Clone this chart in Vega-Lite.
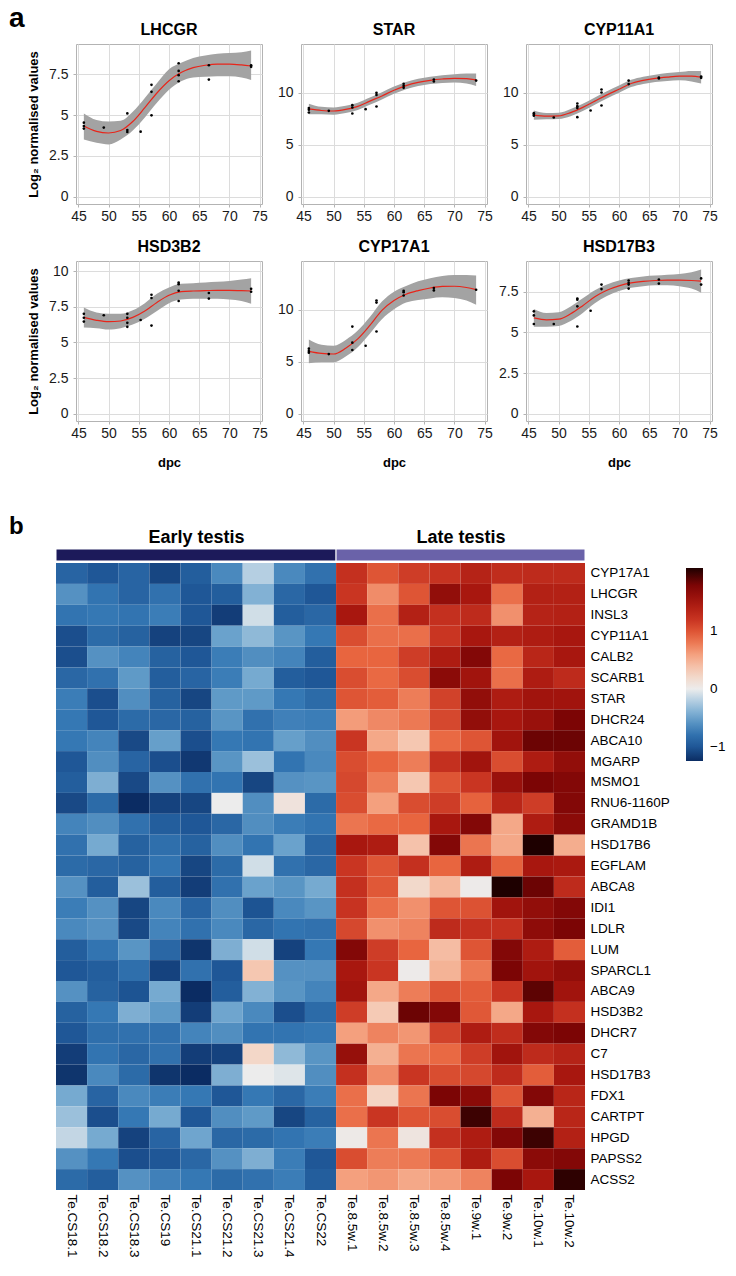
{
  "$schema": "https://vega.github.io/schema/vega-lite/v6.json",
  "background": "white",
  "padding": {"left": 9, "top": 4, "right": 4, "bottom": 4},
  "config": {
    "font": "Liberation Sans",
    "view": {"stroke": "#b3b3b3", "strokeWidth": 1},
    "axis": {"labelFont": "Liberation Sans", "labelFontSize": 14, "labelColor": "#1a1a1a", "tickColor": "#b3b3b3", "tickSize": 3, "labelPadding": 2, "domain": false, "titleFont": "Liberation Sans", "titleFontSize": 13, "titleFontWeight": "bold", "titleColor": "black", "labelFlush": false},
    "title": {"font": "Liberation Sans", "fontSize": 16, "fontWeight": "bold", "color": "black", "offset": 6, "anchor": "middle", "frame": "group"}
  },
  "datasets": {
    "curves": [
      {"gene":"LHCGR","dpc":45.9,"fit":4.33,"lo":3.5,"hi":5.1},
      {"gene":"LHCGR","dpc":48,"fit":4.0,"lo":3.3,"hi":4.7},
      {"gene":"LHCGR","dpc":50,"fit":3.9,"lo":3.2,"hi":4.6},
      {"gene":"LHCGR","dpc":52,"fit":4.05,"lo":3.5,"hi":4.65},
      {"gene":"LHCGR","dpc":54,"fit":4.6,"lo":4.05,"hi":5.2},
      {"gene":"LHCGR","dpc":56,"fit":5.45,"lo":4.85,"hi":6.05},
      {"gene":"LHCGR","dpc":58,"fit":6.35,"lo":5.75,"hi":6.95},
      {"gene":"LHCGR","dpc":60,"fit":7.1,"lo":6.55,"hi":7.8},
      {"gene":"LHCGR","dpc":62,"fit":7.6,"lo":7.07,"hi":8.2},
      {"gene":"LHCGR","dpc":64,"fit":7.9,"lo":7.3,"hi":8.5},
      {"gene":"LHCGR","dpc":66,"fit":8.05,"lo":7.35,"hi":8.65},
      {"gene":"LHCGR","dpc":68,"fit":8.12,"lo":7.38,"hi":8.75},
      {"gene":"LHCGR","dpc":70,"fit":8.12,"lo":7.38,"hi":8.8},
      {"gene":"LHCGR","dpc":72,"fit":8.07,"lo":7.3,"hi":8.85},
      {"gene":"LHCGR","dpc":73.6,"fit":8.0,"lo":7.15,"hi":8.95},
      {"gene":"STAR","dpc":45.9,"fit":8.45,"lo":7.95,"hi":8.95},
      {"gene":"STAR","dpc":48,"fit":8.3,"lo":7.95,"hi":8.65},
      {"gene":"STAR","dpc":50,"fit":8.25,"lo":7.9,"hi":8.6},
      {"gene":"STAR","dpc":52,"fit":8.4,"lo":8.05,"hi":8.75},
      {"gene":"STAR","dpc":54,"fit":8.7,"lo":8.35,"hi":9.05},
      {"gene":"STAR","dpc":56,"fit":9.2,"lo":8.85,"hi":9.55},
      {"gene":"STAR","dpc":58,"fit":9.7,"lo":9.35,"hi":10.05},
      {"gene":"STAR","dpc":60,"fit":10.25,"lo":9.9,"hi":10.6},
      {"gene":"STAR","dpc":62,"fit":10.7,"lo":10.35,"hi":11.05},
      {"gene":"STAR","dpc":64,"fit":11.0,"lo":10.65,"hi":11.35},
      {"gene":"STAR","dpc":66,"fit":11.2,"lo":10.85,"hi":11.55},
      {"gene":"STAR","dpc":68,"fit":11.33,"lo":10.95,"hi":11.7},
      {"gene":"STAR","dpc":70,"fit":11.4,"lo":11.0,"hi":11.8},
      {"gene":"STAR","dpc":72,"fit":11.37,"lo":10.9,"hi":11.85},
      {"gene":"STAR","dpc":73.6,"fit":11.25,"lo":10.65,"hi":11.85},
      {"gene":"CYP11A1","dpc":45.9,"fit":7.85,"lo":7.4,"hi":8.3},
      {"gene":"CYP11A1","dpc":48,"fit":7.75,"lo":7.45,"hi":8.05},
      {"gene":"CYP11A1","dpc":50,"fit":7.78,"lo":7.48,"hi":8.08},
      {"gene":"CYP11A1","dpc":52,"fit":8.1,"lo":7.75,"hi":8.45},
      {"gene":"CYP11A1","dpc":54,"fit":8.6,"lo":8.25,"hi":8.95},
      {"gene":"CYP11A1","dpc":56,"fit":9.2,"lo":8.85,"hi":9.55},
      {"gene":"CYP11A1","dpc":58,"fit":9.8,"lo":9.45,"hi":10.15},
      {"gene":"CYP11A1","dpc":60,"fit":10.35,"lo":10.0,"hi":10.7},
      {"gene":"CYP11A1","dpc":62,"fit":10.9,"lo":10.55,"hi":11.25},
      {"gene":"CYP11A1","dpc":64,"fit":11.2,"lo":10.85,"hi":11.55},
      {"gene":"CYP11A1","dpc":66,"fit":11.4,"lo":11.05,"hi":11.75},
      {"gene":"CYP11A1","dpc":68,"fit":11.52,"lo":11.15,"hi":11.9},
      {"gene":"CYP11A1","dpc":70,"fit":11.6,"lo":11.2,"hi":12.0},
      {"gene":"CYP11A1","dpc":72,"fit":11.6,"lo":11.1,"hi":12.1},
      {"gene":"CYP11A1","dpc":73.6,"fit":11.5,"lo":10.9,"hi":12.1},
      {"gene":"HSD3B2","dpc":45.9,"fit":6.75,"lo":6.05,"hi":7.45},
      {"gene":"HSD3B2","dpc":48,"fit":6.55,"lo":6.0,"hi":7.1},
      {"gene":"HSD3B2","dpc":50,"fit":6.45,"lo":5.9,"hi":7.0},
      {"gene":"HSD3B2","dpc":52,"fit":6.5,"lo":6.0,"hi":7.0},
      {"gene":"HSD3B2","dpc":54,"fit":6.75,"lo":6.25,"hi":7.25},
      {"gene":"HSD3B2","dpc":56,"fit":7.2,"lo":6.65,"hi":7.75},
      {"gene":"HSD3B2","dpc":58,"fit":7.8,"lo":7.2,"hi":8.4},
      {"gene":"HSD3B2","dpc":60,"fit":8.3,"lo":7.75,"hi":8.85},
      {"gene":"HSD3B2","dpc":62,"fit":8.55,"lo":8.0,"hi":9.1},
      {"gene":"HSD3B2","dpc":64,"fit":8.6,"lo":8.05,"hi":9.15},
      {"gene":"HSD3B2","dpc":66,"fit":8.62,"lo":8.05,"hi":9.2},
      {"gene":"HSD3B2","dpc":68,"fit":8.65,"lo":8.05,"hi":9.25},
      {"gene":"HSD3B2","dpc":70,"fit":8.65,"lo":8.0,"hi":9.3},
      {"gene":"HSD3B2","dpc":72,"fit":8.63,"lo":7.9,"hi":9.4},
      {"gene":"HSD3B2","dpc":73.6,"fit":8.6,"lo":7.7,"hi":9.5},
      {"gene":"CYP17A1","dpc":45.9,"fit":6.0,"lo":4.85,"hi":7.15},
      {"gene":"CYP17A1","dpc":48,"fit":5.8,"lo":4.95,"hi":6.65},
      {"gene":"CYP17A1","dpc":50,"fit":5.75,"lo":4.95,"hi":6.55},
      {"gene":"CYP17A1","dpc":52,"fit":6.3,"lo":5.5,"hi":7.1},
      {"gene":"CYP17A1","dpc":54,"fit":7.2,"lo":6.4,"hi":8.0},
      {"gene":"CYP17A1","dpc":56,"fit":8.5,"lo":7.7,"hi":9.3},
      {"gene":"CYP17A1","dpc":58,"fit":9.95,"lo":9.1,"hi":10.8},
      {"gene":"CYP17A1","dpc":60,"fit":10.9,"lo":10.05,"hi":11.75},
      {"gene":"CYP17A1","dpc":62,"fit":11.5,"lo":10.7,"hi":12.3},
      {"gene":"CYP17A1","dpc":64,"fit":11.85,"lo":10.95,"hi":12.75},
      {"gene":"CYP17A1","dpc":66,"fit":12.1,"lo":11.1,"hi":13.05},
      {"gene":"CYP17A1","dpc":68,"fit":12.25,"lo":11.2,"hi":13.25},
      {"gene":"CYP17A1","dpc":70,"fit":12.27,"lo":11.15,"hi":13.35},
      {"gene":"CYP17A1","dpc":72,"fit":12.15,"lo":10.9,"hi":13.35},
      {"gene":"CYP17A1","dpc":73.6,"fit":11.95,"lo":10.5,"hi":13.3},
      {"gene":"HSD17B3","dpc":45.9,"fit":5.9,"lo":5.35,"hi":6.45},
      {"gene":"HSD17B3","dpc":48,"fit":5.78,"lo":5.35,"hi":6.2},
      {"gene":"HSD17B3","dpc":50,"fit":5.82,"lo":5.4,"hi":6.25},
      {"gene":"HSD17B3","dpc":52,"fit":6.15,"lo":5.7,"hi":6.6},
      {"gene":"HSD17B3","dpc":54,"fit":6.65,"lo":6.2,"hi":7.1},
      {"gene":"HSD17B3","dpc":56,"fit":7.2,"lo":6.8,"hi":7.6},
      {"gene":"HSD17B3","dpc":58,"fit":7.6,"lo":7.25,"hi":7.95},
      {"gene":"HSD17B3","dpc":60,"fit":7.87,"lo":7.55,"hi":8.2},
      {"gene":"HSD17B3","dpc":62,"fit":8.05,"lo":7.75,"hi":8.35},
      {"gene":"HSD17B3","dpc":64,"fit":8.15,"lo":7.85,"hi":8.45},
      {"gene":"HSD17B3","dpc":66,"fit":8.2,"lo":7.9,"hi":8.5},
      {"gene":"HSD17B3","dpc":68,"fit":8.22,"lo":7.9,"hi":8.55},
      {"gene":"HSD17B3","dpc":70,"fit":8.22,"lo":7.85,"hi":8.6},
      {"gene":"HSD17B3","dpc":72,"fit":8.2,"lo":7.7,"hi":8.7},
      {"gene":"HSD17B3","dpc":73.6,"fit":8.16,"lo":7.45,"hi":8.87}
    ],
    "points": [
      {"gene":"LHCGR","dpc":45.9,"value":4.53},{"gene":"LHCGR","dpc":45.9,"value":4.33},{"gene":"LHCGR","dpc":45.9,"value":4.17},
      {"gene":"LHCGR","dpc":49.2,"value":4.23},
      {"gene":"LHCGR","dpc":53.1,"value":5.1},{"gene":"LHCGR","dpc":53.1,"value":4.08},{"gene":"LHCGR","dpc":53.1,"value":3.96},
      {"gene":"LHCGR","dpc":55.3,"value":3.98},
      {"gene":"LHCGR","dpc":57.1,"value":6.85},{"gene":"LHCGR","dpc":57.1,"value":6.42},{"gene":"LHCGR","dpc":57.1,"value":4.98},
      {"gene":"LHCGR","dpc":61.6,"value":8.17},{"gene":"LHCGR","dpc":61.6,"value":7.7},{"gene":"LHCGR","dpc":61.6,"value":7.44},{"gene":"LHCGR","dpc":61.6,"value":7.07},
      {"gene":"LHCGR","dpc":66.6,"value":8.05},{"gene":"LHCGR","dpc":66.6,"value":7.17},
      {"gene":"LHCGR","dpc":73.6,"value":8.05},{"gene":"LHCGR","dpc":73.6,"value":7.95},
      {"gene":"STAR","dpc":45.9,"value":8.53},{"gene":"STAR","dpc":45.9,"value":8.37},{"gene":"STAR","dpc":45.9,"value":8.11},
      {"gene":"STAR","dpc":49.2,"value":8.27},
      {"gene":"STAR","dpc":53.1,"value":8.81},{"gene":"STAR","dpc":53.1,"value":8.59},{"gene":"STAR","dpc":53.1,"value":8.01},
      {"gene":"STAR","dpc":55.3,"value":8.43},
      {"gene":"STAR","dpc":57.1,"value":10.0},{"gene":"STAR","dpc":57.1,"value":9.8},{"gene":"STAR","dpc":57.1,"value":8.68},
      {"gene":"STAR","dpc":61.6,"value":10.87},{"gene":"STAR","dpc":61.6,"value":10.67},{"gene":"STAR","dpc":61.6,"value":10.48},
      {"gene":"STAR","dpc":66.6,"value":11.28},{"gene":"STAR","dpc":66.6,"value":11.09},
      {"gene":"STAR","dpc":73.6,"value":11.18},
      {"gene":"CYP11A1","dpc":45.9,"value":8.04},{"gene":"CYP11A1","dpc":45.9,"value":7.88},{"gene":"CYP11A1","dpc":45.9,"value":7.79},
      {"gene":"CYP11A1","dpc":49.2,"value":7.63},
      {"gene":"CYP11A1","dpc":53.1,"value":8.97},{"gene":"CYP11A1","dpc":53.1,"value":8.72},{"gene":"CYP11A1","dpc":53.1,"value":8.53},{"gene":"CYP11A1","dpc":53.1,"value":7.66},
      {"gene":"CYP11A1","dpc":55.3,"value":8.3},
      {"gene":"CYP11A1","dpc":57.1,"value":10.32},{"gene":"CYP11A1","dpc":57.1,"value":10.03},{"gene":"CYP11A1","dpc":57.1,"value":8.78},
      {"gene":"CYP11A1","dpc":61.6,"value":11.18},{"gene":"CYP11A1","dpc":61.6,"value":10.84},
      {"gene":"CYP11A1","dpc":66.6,"value":11.47},{"gene":"CYP11A1","dpc":66.6,"value":11.38},
      {"gene":"CYP11A1","dpc":73.6,"value":11.57},{"gene":"CYP11A1","dpc":73.6,"value":11.44},
      {"gene":"HSD3B2","dpc":45.9,"value":7.0},{"gene":"HSD3B2","dpc":45.9,"value":6.73},{"gene":"HSD3B2","dpc":45.9,"value":6.46},
      {"gene":"HSD3B2","dpc":49.2,"value":6.9},
      {"gene":"HSD3B2","dpc":53.1,"value":7.0},{"gene":"HSD3B2","dpc":53.1,"value":6.73},{"gene":"HSD3B2","dpc":53.1,"value":6.37},{"gene":"HSD3B2","dpc":53.1,"value":6.09},
      {"gene":"HSD3B2","dpc":55.3,"value":6.57},
      {"gene":"HSD3B2","dpc":57.1,"value":8.34},{"gene":"HSD3B2","dpc":57.1,"value":8.11},{"gene":"HSD3B2","dpc":57.1,"value":6.18},
      {"gene":"HSD3B2","dpc":61.6,"value":9.19},{"gene":"HSD3B2","dpc":61.6,"value":9.08},{"gene":"HSD3B2","dpc":61.6,"value":8.62},{"gene":"HSD3B2","dpc":61.6,"value":7.9},
      {"gene":"HSD3B2","dpc":66.6,"value":8.46},{"gene":"HSD3B2","dpc":66.6,"value":8.07},
      {"gene":"HSD3B2","dpc":73.6,"value":8.75},{"gene":"HSD3B2","dpc":73.6,"value":8.55},
      {"gene":"CYP17A1","dpc":45.9,"value":6.26},{"gene":"CYP17A1","dpc":45.9,"value":6.03},{"gene":"CYP17A1","dpc":45.9,"value":5.87},
      {"gene":"CYP17A1","dpc":49.2,"value":5.74},
      {"gene":"CYP17A1","dpc":53.1,"value":8.39},{"gene":"CYP17A1","dpc":53.1,"value":6.84},{"gene":"CYP17A1","dpc":53.1,"value":6.13},
      {"gene":"CYP17A1","dpc":55.3,"value":6.54},
      {"gene":"CYP17A1","dpc":57.1,"value":10.9},{"gene":"CYP17A1","dpc":57.1,"value":10.7},{"gene":"CYP17A1","dpc":57.1,"value":7.91},
      {"gene":"CYP17A1","dpc":61.6,"value":11.84},{"gene":"CYP17A1","dpc":61.6,"value":11.7},{"gene":"CYP17A1","dpc":61.6,"value":11.38},
      {"gene":"CYP17A1","dpc":66.6,"value":12.1},{"gene":"CYP17A1","dpc":66.6,"value":11.87},
      {"gene":"CYP17A1","dpc":73.6,"value":11.93},
      {"gene":"HSD17B3","dpc":45.9,"value":6.3},{"gene":"HSD17B3","dpc":45.9,"value":6.05},{"gene":"HSD17B3","dpc":45.9,"value":5.52},
      {"gene":"HSD17B3","dpc":49.2,"value":5.52},
      {"gene":"HSD17B3","dpc":53.1,"value":7.09},{"gene":"HSD17B3","dpc":53.1,"value":7.02},{"gene":"HSD17B3","dpc":53.1,"value":6.61},{"gene":"HSD17B3","dpc":53.1,"value":5.37},
      {"gene":"HSD17B3","dpc":55.3,"value":6.34},
      {"gene":"HSD17B3","dpc":57.1,"value":7.95},{"gene":"HSD17B3","dpc":57.1,"value":7.67},
      {"gene":"HSD17B3","dpc":61.6,"value":8.2},{"gene":"HSD17B3","dpc":61.6,"value":8.06},{"gene":"HSD17B3","dpc":61.6,"value":7.95},{"gene":"HSD17B3","dpc":61.6,"value":7.7},
      {"gene":"HSD17B3","dpc":66.6,"value":8.26},{"gene":"HSD17B3","dpc":66.6,"value":8.01},
      {"gene":"HSD17B3","dpc":73.6,"value":8.33},{"gene":"HSD17B3","dpc":73.6,"value":7.95}
    ],
    "annot": [
      {"group":"Early testis","start":0,"end":9},
      {"group":"Late testis","start":9,"end":17}
    ],
    "heat": [
      {"gene":"CYP17A1","sample":"Te.CS18.1","z":-0.9},{"gene":"CYP17A1","sample":"Te.CS18.2","z":-1.0},{"gene":"CYP17A1","sample":"Te.CS18.3","z":-0.9},{"gene":"CYP17A1","sample":"Te.CS19","z":-1.1},{"gene":"CYP17A1","sample":"Te.CS21.1","z":-0.95},{"gene":"CYP17A1","sample":"Te.CS21.2","z":-0.65},{"gene":"CYP17A1","sample":"Te.CS21.3","z":-0.2},{"gene":"CYP17A1","sample":"Te.CS21.4","z":-0.65},{"gene":"CYP17A1","sample":"Te.CS22","z":-0.8},{"gene":"CYP17A1","sample":"Te.8.5w.1","z":1.25},{"gene":"CYP17A1","sample":"Te.8.5w.2","z":1.0},{"gene":"CYP17A1","sample":"Te.8.5w.3","z":1.15},{"gene":"CYP17A1","sample":"Te.8.5w.4","z":1.22},{"gene":"CYP17A1","sample":"Te.9w.1","z":1.38},{"gene":"CYP17A1","sample":"Te.9w.2","z":1.28},{"gene":"CYP17A1","sample":"Te.10w.1","z":1.3},{"gene":"CYP17A1","sample":"Te.10w.2","z":1.3},
      {"gene":"LHCGR","sample":"Te.CS18.1","z":-0.6},{"gene":"LHCGR","sample":"Te.CS18.2","z":-0.78},{"gene":"LHCGR","sample":"Te.CS18.3","z":-0.9},{"gene":"LHCGR","sample":"Te.CS19","z":-0.8},{"gene":"LHCGR","sample":"Te.CS21.1","z":-1.0},{"gene":"LHCGR","sample":"Te.CS21.2","z":-0.95},{"gene":"LHCGR","sample":"Te.CS21.3","z":-0.4},{"gene":"LHCGR","sample":"Te.CS21.4","z":-0.88},{"gene":"LHCGR","sample":"Te.CS22","z":-1.0},{"gene":"LHCGR","sample":"Te.8.5w.1","z":1.2},{"gene":"LHCGR","sample":"Te.8.5w.2","z":0.7},{"gene":"LHCGR","sample":"Te.8.5w.3","z":1.0},{"gene":"LHCGR","sample":"Te.8.5w.4","z":1.65},{"gene":"LHCGR","sample":"Te.9w.1","z":1.5},{"gene":"LHCGR","sample":"Te.9w.2","z":0.85},{"gene":"LHCGR","sample":"Te.10w.1","z":1.4},{"gene":"LHCGR","sample":"Te.10w.2","z":1.4},
      {"gene":"INSL3","sample":"Te.CS18.1","z":-0.78},{"gene":"INSL3","sample":"Te.CS18.2","z":-0.75},{"gene":"INSL3","sample":"Te.CS18.3","z":-0.78},{"gene":"INSL3","sample":"Te.CS19","z":-0.72},{"gene":"INSL3","sample":"Te.CS21.1","z":-1.0},{"gene":"INSL3","sample":"Te.CS21.2","z":-1.15},{"gene":"INSL3","sample":"Te.CS21.3","z":-0.1},{"gene":"INSL3","sample":"Te.CS21.4","z":-0.95},{"gene":"INSL3","sample":"Te.CS22","z":-0.88},{"gene":"INSL3","sample":"Te.8.5w.1","z":1.5},{"gene":"INSL3","sample":"Te.8.5w.2","z":0.85},{"gene":"INSL3","sample":"Te.8.5w.3","z":1.4},{"gene":"INSL3","sample":"Te.8.5w.4","z":1.25},{"gene":"INSL3","sample":"Te.9w.1","z":1.3},{"gene":"INSL3","sample":"Te.9w.2","z":0.68},{"gene":"INSL3","sample":"Te.10w.1","z":1.38},{"gene":"INSL3","sample":"Te.10w.2","z":1.4},
      {"gene":"CYP11A1","sample":"Te.CS18.1","z":-1.05},{"gene":"CYP11A1","sample":"Te.CS18.2","z":-0.85},{"gene":"CYP11A1","sample":"Te.CS18.3","z":-0.92},{"gene":"CYP11A1","sample":"Te.CS19","z":-1.12},{"gene":"CYP11A1","sample":"Te.CS21.1","z":-1.1},{"gene":"CYP11A1","sample":"Te.CS21.2","z":-0.5},{"gene":"CYP11A1","sample":"Te.CS21.3","z":-0.35},{"gene":"CYP11A1","sample":"Te.CS21.4","z":-0.58},{"gene":"CYP11A1","sample":"Te.CS22","z":-0.75},{"gene":"CYP11A1","sample":"Te.8.5w.1","z":1.05},{"gene":"CYP11A1","sample":"Te.8.5w.2","z":0.85},{"gene":"CYP11A1","sample":"Te.8.5w.3","z":0.85},{"gene":"CYP11A1","sample":"Te.8.5w.4","z":1.2},{"gene":"CYP11A1","sample":"Te.9w.1","z":1.5},{"gene":"CYP11A1","sample":"Te.9w.2","z":1.4},{"gene":"CYP11A1","sample":"Te.10w.1","z":1.45},{"gene":"CYP11A1","sample":"Te.10w.2","z":1.5},
      {"gene":"CALB2","sample":"Te.CS18.1","z":-1.05},{"gene":"CALB2","sample":"Te.CS18.2","z":-0.6},{"gene":"CALB2","sample":"Te.CS18.3","z":-0.68},{"gene":"CALB2","sample":"Te.CS19","z":-0.92},{"gene":"CALB2","sample":"Te.CS21.1","z":-1.0},{"gene":"CALB2","sample":"Te.CS21.2","z":-0.72},{"gene":"CALB2","sample":"Te.CS21.3","z":-0.62},{"gene":"CALB2","sample":"Te.CS21.4","z":-0.68},{"gene":"CALB2","sample":"Te.CS22","z":-0.95},{"gene":"CALB2","sample":"Te.8.5w.1","z":0.9},{"gene":"CALB2","sample":"Te.8.5w.2","z":0.9},{"gene":"CALB2","sample":"Te.8.5w.3","z":1.15},{"gene":"CALB2","sample":"Te.8.5w.4","z":1.45},{"gene":"CALB2","sample":"Te.9w.1","z":1.75},{"gene":"CALB2","sample":"Te.9w.2","z":0.88},{"gene":"CALB2","sample":"Te.10w.1","z":1.35},{"gene":"CALB2","sample":"Te.10w.2","z":1.5},
      {"gene":"SCARB1","sample":"Te.CS18.1","z":-0.88},{"gene":"SCARB1","sample":"Te.CS18.2","z":-0.8},{"gene":"SCARB1","sample":"Te.CS18.3","z":-0.55},{"gene":"SCARB1","sample":"Te.CS19","z":-0.95},{"gene":"SCARB1","sample":"Te.CS21.1","z":-0.9},{"gene":"SCARB1","sample":"Te.CS21.2","z":-0.72},{"gene":"SCARB1","sample":"Te.CS21.3","z":-0.45},{"gene":"SCARB1","sample":"Te.CS21.4","z":-0.95},{"gene":"SCARB1","sample":"Te.CS22","z":-1.0},{"gene":"SCARB1","sample":"Te.8.5w.1","z":1.05},{"gene":"SCARB1","sample":"Te.8.5w.2","z":0.88},{"gene":"SCARB1","sample":"Te.8.5w.3","z":1.05},{"gene":"SCARB1","sample":"Te.8.5w.4","z":1.7},{"gene":"SCARB1","sample":"Te.9w.1","z":1.55},{"gene":"SCARB1","sample":"Te.9w.2","z":0.85},{"gene":"SCARB1","sample":"Te.10w.1","z":1.45},{"gene":"SCARB1","sample":"Te.10w.2","z":1.3},
      {"gene":"STAR","sample":"Te.CS18.1","z":-0.72},{"gene":"STAR","sample":"Te.CS18.2","z":-1.05},{"gene":"STAR","sample":"Te.CS18.3","z":-0.62},{"gene":"STAR","sample":"Te.CS19","z":-0.92},{"gene":"STAR","sample":"Te.CS21.1","z":-1.1},{"gene":"STAR","sample":"Te.CS21.2","z":-0.55},{"gene":"STAR","sample":"Te.CS21.3","z":-0.55},{"gene":"STAR","sample":"Te.CS21.4","z":-0.75},{"gene":"STAR","sample":"Te.CS22","z":-0.85},{"gene":"STAR","sample":"Te.8.5w.1","z":1.0},{"gene":"STAR","sample":"Te.8.5w.2","z":0.95},{"gene":"STAR","sample":"Te.8.5w.3","z":0.78},{"gene":"STAR","sample":"Te.8.5w.4","z":1.12},{"gene":"STAR","sample":"Te.9w.1","z":1.65},{"gene":"STAR","sample":"Te.9w.2","z":1.45},{"gene":"STAR","sample":"Te.10w.1","z":1.55},{"gene":"STAR","sample":"Te.10w.2","z":1.55},
      {"gene":"DHCR24","sample":"Te.CS18.1","z":-0.75},{"gene":"DHCR24","sample":"Te.CS18.2","z":-1.0},{"gene":"DHCR24","sample":"Te.CS18.3","z":-0.85},{"gene":"DHCR24","sample":"Te.CS19","z":-0.88},{"gene":"DHCR24","sample":"Te.CS21.1","z":-0.92},{"gene":"DHCR24","sample":"Te.CS21.2","z":-0.58},{"gene":"DHCR24","sample":"Te.CS21.3","z":-0.8},{"gene":"DHCR24","sample":"Te.CS21.4","z":-0.7},{"gene":"DHCR24","sample":"Te.CS22","z":-0.72},{"gene":"DHCR24","sample":"Te.8.5w.1","z":0.62},{"gene":"DHCR24","sample":"Te.8.5w.2","z":0.72},{"gene":"DHCR24","sample":"Te.8.5w.3","z":0.8},{"gene":"DHCR24","sample":"Te.8.5w.4","z":1.08},{"gene":"DHCR24","sample":"Te.9w.1","z":1.65},{"gene":"DHCR24","sample":"Te.9w.2","z":1.5},{"gene":"DHCR24","sample":"Te.10w.1","z":1.6},{"gene":"DHCR24","sample":"Te.10w.2","z":1.8},
      {"gene":"ABCA10","sample":"Te.CS18.1","z":-0.75},{"gene":"ABCA10","sample":"Te.CS18.2","z":-0.68},{"gene":"ABCA10","sample":"Te.CS18.3","z":-1.08},{"gene":"ABCA10","sample":"Te.CS19","z":-0.52},{"gene":"ABCA10","sample":"Te.CS21.1","z":-1.05},{"gene":"ABCA10","sample":"Te.CS21.2","z":-0.75},{"gene":"ABCA10","sample":"Te.CS21.3","z":-0.78},{"gene":"ABCA10","sample":"Te.CS21.4","z":-0.52},{"gene":"ABCA10","sample":"Te.CS22","z":-0.62},{"gene":"ABCA10","sample":"Te.8.5w.1","z":1.2},{"gene":"ABCA10","sample":"Te.8.5w.2","z":0.55},{"gene":"ABCA10","sample":"Te.8.5w.3","z":0.35},{"gene":"ABCA10","sample":"Te.8.5w.4","z":0.88},{"gene":"ABCA10","sample":"Te.9w.1","z":1.0},{"gene":"ABCA10","sample":"Te.9w.2","z":1.55},{"gene":"ABCA10","sample":"Te.10w.1","z":1.85},{"gene":"ABCA10","sample":"Te.10w.2","z":1.85},
      {"gene":"MGARP","sample":"Te.CS18.1","z":-1.0},{"gene":"MGARP","sample":"Te.CS18.2","z":-0.62},{"gene":"MGARP","sample":"Te.CS18.3","z":-0.9},{"gene":"MGARP","sample":"Te.CS19","z":-1.05},{"gene":"MGARP","sample":"Te.CS21.1","z":-1.18},{"gene":"MGARP","sample":"Te.CS21.2","z":-0.58},{"gene":"MGARP","sample":"Te.CS21.3","z":-0.3},{"gene":"MGARP","sample":"Te.CS21.4","z":-0.78},{"gene":"MGARP","sample":"Te.CS22","z":-0.65},{"gene":"MGARP","sample":"Te.8.5w.1","z":1.05},{"gene":"MGARP","sample":"Te.8.5w.2","z":0.9},{"gene":"MGARP","sample":"Te.8.5w.3","z":0.78},{"gene":"MGARP","sample":"Te.8.5w.4","z":1.25},{"gene":"MGARP","sample":"Te.9w.1","z":1.55},{"gene":"MGARP","sample":"Te.9w.2","z":1.05},{"gene":"MGARP","sample":"Te.10w.1","z":1.45},{"gene":"MGARP","sample":"Te.10w.2","z":1.65},
      {"gene":"MSMO1","sample":"Te.CS18.1","z":-0.95},{"gene":"MSMO1","sample":"Te.CS18.2","z":-0.42},{"gene":"MSMO1","sample":"Te.CS18.3","z":-1.08},{"gene":"MSMO1","sample":"Te.CS19","z":-0.6},{"gene":"MSMO1","sample":"Te.CS21.1","z":-0.8},{"gene":"MSMO1","sample":"Te.CS21.2","z":-0.78},{"gene":"MSMO1","sample":"Te.CS21.3","z":-1.1},{"gene":"MSMO1","sample":"Te.CS21.4","z":-0.6},{"gene":"MSMO1","sample":"Te.CS22","z":-0.58},{"gene":"MSMO1","sample":"Te.8.5w.1","z":1.08},{"gene":"MSMO1","sample":"Te.8.5w.2","z":0.78},{"gene":"MSMO1","sample":"Te.8.5w.3","z":0.35},{"gene":"MSMO1","sample":"Te.8.5w.4","z":1.0},{"gene":"MSMO1","sample":"Te.9w.1","z":1.2},{"gene":"MSMO1","sample":"Te.9w.2","z":1.6},{"gene":"MSMO1","sample":"Te.10w.1","z":1.8},{"gene":"MSMO1","sample":"Te.10w.2","z":1.75},
      {"gene":"RNU6-1160P","sample":"Te.CS18.1","z":-1.08},{"gene":"RNU6-1160P","sample":"Te.CS18.2","z":-0.85},{"gene":"RNU6-1160P","sample":"Te.CS18.3","z":-1.25},{"gene":"RNU6-1160P","sample":"Te.CS19","z":-1.12},{"gene":"RNU6-1160P","sample":"Te.CS21.1","z":-1.1},{"gene":"RNU6-1160P","sample":"Te.CS21.2","z":0.0},{"gene":"RNU6-1160P","sample":"Te.CS21.3","z":-0.62},{"gene":"RNU6-1160P","sample":"Te.CS21.4","z":0.1},{"gene":"RNU6-1160P","sample":"Te.CS22","z":-0.85},{"gene":"RNU6-1160P","sample":"Te.8.5w.1","z":1.05},{"gene":"RNU6-1160P","sample":"Te.8.5w.2","z":0.6},{"gene":"RNU6-1160P","sample":"Te.8.5w.3","z":1.05},{"gene":"RNU6-1160P","sample":"Te.8.5w.4","z":1.15},{"gene":"RNU6-1160P","sample":"Te.9w.1","z":0.92},{"gene":"RNU6-1160P","sample":"Te.9w.2","z":1.35},{"gene":"RNU6-1160P","sample":"Te.10w.1","z":1.15},{"gene":"RNU6-1160P","sample":"Te.10w.2","z":1.75},
      {"gene":"GRAMD1B","sample":"Te.CS18.1","z":-0.68},{"gene":"GRAMD1B","sample":"Te.CS18.2","z":-0.62},{"gene":"GRAMD1B","sample":"Te.CS18.3","z":-0.8},{"gene":"GRAMD1B","sample":"Te.CS19","z":-0.95},{"gene":"GRAMD1B","sample":"Te.CS21.1","z":-1.0},{"gene":"GRAMD1B","sample":"Te.CS21.2","z":-0.88},{"gene":"GRAMD1B","sample":"Te.CS21.3","z":-0.62},{"gene":"GRAMD1B","sample":"Te.CS21.4","z":-0.72},{"gene":"GRAMD1B","sample":"Te.CS22","z":-0.78},{"gene":"GRAMD1B","sample":"Te.8.5w.1","z":0.82},{"gene":"GRAMD1B","sample":"Te.8.5w.2","z":0.88},{"gene":"GRAMD1B","sample":"Te.8.5w.3","z":0.9},{"gene":"GRAMD1B","sample":"Te.8.5w.4","z":1.5},{"gene":"GRAMD1B","sample":"Te.9w.1","z":1.75},{"gene":"GRAMD1B","sample":"Te.9w.2","z":0.55},{"gene":"GRAMD1B","sample":"Te.10w.1","z":1.45},{"gene":"GRAMD1B","sample":"Te.10w.2","z":1.7},
      {"gene":"HSD17B6","sample":"Te.CS18.1","z":-0.8},{"gene":"HSD17B6","sample":"Te.CS18.2","z":-0.45},{"gene":"HSD17B6","sample":"Te.CS18.3","z":-0.92},{"gene":"HSD17B6","sample":"Te.CS19","z":-0.82},{"gene":"HSD17B6","sample":"Te.CS21.1","z":-0.92},{"gene":"HSD17B6","sample":"Te.CS21.2","z":-0.62},{"gene":"HSD17B6","sample":"Te.CS21.3","z":-0.78},{"gene":"HSD17B6","sample":"Te.CS21.4","z":-0.5},{"gene":"HSD17B6","sample":"Te.CS22","z":-0.88},{"gene":"HSD17B6","sample":"Te.8.5w.1","z":1.5},{"gene":"HSD17B6","sample":"Te.8.5w.2","z":1.45},{"gene":"HSD17B6","sample":"Te.8.5w.3","z":0.38},{"gene":"HSD17B6","sample":"Te.8.5w.4","z":1.75},{"gene":"HSD17B6","sample":"Te.9w.1","z":0.82},{"gene":"HSD17B6","sample":"Te.9w.2","z":0.55},{"gene":"HSD17B6","sample":"Te.10w.1","z":2.1},{"gene":"HSD17B6","sample":"Te.10w.2","z":0.52},
      {"gene":"EGFLAM","sample":"Te.CS18.1","z":-0.85},{"gene":"EGFLAM","sample":"Te.CS18.2","z":-0.88},{"gene":"EGFLAM","sample":"Te.CS18.3","z":-0.92},{"gene":"EGFLAM","sample":"Te.CS19","z":-0.78},{"gene":"EGFLAM","sample":"Te.CS21.1","z":-1.1},{"gene":"EGFLAM","sample":"Te.CS21.2","z":-0.85},{"gene":"EGFLAM","sample":"Te.CS21.3","z":-0.1},{"gene":"EGFLAM","sample":"Te.CS21.4","z":-0.8},{"gene":"EGFLAM","sample":"Te.CS22","z":-0.88},{"gene":"EGFLAM","sample":"Te.8.5w.1","z":1.2},{"gene":"EGFLAM","sample":"Te.8.5w.2","z":1.0},{"gene":"EGFLAM","sample":"Te.8.5w.3","z":1.25},{"gene":"EGFLAM","sample":"Te.8.5w.4","z":0.9},{"gene":"EGFLAM","sample":"Te.9w.1","z":1.45},{"gene":"EGFLAM","sample":"Te.9w.2","z":0.92},{"gene":"EGFLAM","sample":"Te.10w.1","z":1.5},{"gene":"EGFLAM","sample":"Te.10w.2","z":1.48},
      {"gene":"ABCA8","sample":"Te.CS18.1","z":-0.6},{"gene":"ABCA8","sample":"Te.CS18.2","z":-0.95},{"gene":"ABCA8","sample":"Te.CS18.3","z":-0.3},{"gene":"ABCA8","sample":"Te.CS19","z":-0.95},{"gene":"ABCA8","sample":"Te.CS21.1","z":-1.15},{"gene":"ABCA8","sample":"Te.CS21.2","z":-0.8},{"gene":"ABCA8","sample":"Te.CS21.3","z":-0.5},{"gene":"ABCA8","sample":"Te.CS21.4","z":-0.58},{"gene":"ABCA8","sample":"Te.CS22","z":-0.45},{"gene":"ABCA8","sample":"Te.8.5w.1","z":1.25},{"gene":"ABCA8","sample":"Te.8.5w.2","z":0.98},{"gene":"ABCA8","sample":"Te.8.5w.3","z":0.2},{"gene":"ABCA8","sample":"Te.8.5w.4","z":0.45},{"gene":"ABCA8","sample":"Te.9w.1","z":0.02},{"gene":"ABCA8","sample":"Te.9w.2","z":2.15},{"gene":"ABCA8","sample":"Te.10w.1","z":1.85},{"gene":"ABCA8","sample":"Te.10w.2","z":1.3},
      {"gene":"IDI1","sample":"Te.CS18.1","z":-0.72},{"gene":"IDI1","sample":"Te.CS18.2","z":-0.6},{"gene":"IDI1","sample":"Te.CS18.3","z":-1.1},{"gene":"IDI1","sample":"Te.CS19","z":-0.65},{"gene":"IDI1","sample":"Te.CS21.1","z":-0.9},{"gene":"IDI1","sample":"Te.CS21.2","z":-0.62},{"gene":"IDI1","sample":"Te.CS21.3","z":-1.02},{"gene":"IDI1","sample":"Te.CS21.4","z":-0.65},{"gene":"IDI1","sample":"Te.CS22","z":-0.58},{"gene":"IDI1","sample":"Te.8.5w.1","z":1.22},{"gene":"IDI1","sample":"Te.8.5w.2","z":0.85},{"gene":"IDI1","sample":"Te.8.5w.3","z":0.68},{"gene":"IDI1","sample":"Te.8.5w.4","z":1.0},{"gene":"IDI1","sample":"Te.9w.1","z":1.02},{"gene":"IDI1","sample":"Te.9w.2","z":1.55},{"gene":"IDI1","sample":"Te.10w.1","z":1.65},{"gene":"IDI1","sample":"Te.10w.2","z":1.75},
      {"gene":"LDLR","sample":"Te.CS18.1","z":-0.65},{"gene":"LDLR","sample":"Te.CS18.2","z":-0.6},{"gene":"LDLR","sample":"Te.CS18.3","z":-1.08},{"gene":"LDLR","sample":"Te.CS19","z":-0.68},{"gene":"LDLR","sample":"Te.CS21.1","z":-0.8},{"gene":"LDLR","sample":"Te.CS21.2","z":-0.65},{"gene":"LDLR","sample":"Te.CS21.3","z":-0.88},{"gene":"LDLR","sample":"Te.CS21.4","z":-0.78},{"gene":"LDLR","sample":"Te.CS22","z":-0.8},{"gene":"LDLR","sample":"Te.8.5w.1","z":1.08},{"gene":"LDLR","sample":"Te.8.5w.2","z":0.68},{"gene":"LDLR","sample":"Te.8.5w.3","z":0.75},{"gene":"LDLR","sample":"Te.8.5w.4","z":1.3},{"gene":"LDLR","sample":"Te.9w.1","z":1.25},{"gene":"LDLR","sample":"Te.9w.2","z":1.25},{"gene":"LDLR","sample":"Te.10w.1","z":1.68},{"gene":"LDLR","sample":"Te.10w.2","z":1.8},
      {"gene":"LUM","sample":"Te.CS18.1","z":-0.95},{"gene":"LUM","sample":"Te.CS18.2","z":-0.78},{"gene":"LUM","sample":"Te.CS18.3","z":-0.58},{"gene":"LUM","sample":"Te.CS19","z":-0.88},{"gene":"LUM","sample":"Te.CS21.1","z":-1.2},{"gene":"LUM","sample":"Te.CS21.2","z":-0.42},{"gene":"LUM","sample":"Te.CS21.3","z":-0.1},{"gene":"LUM","sample":"Te.CS21.4","z":-1.12},{"gene":"LUM","sample":"Te.CS22","z":-0.75},{"gene":"LUM","sample":"Te.8.5w.1","z":1.75},{"gene":"LUM","sample":"Te.8.5w.2","z":1.15},{"gene":"LUM","sample":"Te.8.5w.3","z":0.9},{"gene":"LUM","sample":"Te.8.5w.4","z":0.42},{"gene":"LUM","sample":"Te.9w.1","z":1.0},{"gene":"LUM","sample":"Te.9w.2","z":1.75},{"gene":"LUM","sample":"Te.10w.1","z":1.45},{"gene":"LUM","sample":"Te.10w.2","z":0.95},
      {"gene":"SPARCL1","sample":"Te.CS18.1","z":-1.0},{"gene":"SPARCL1","sample":"Te.CS18.2","z":-0.95},{"gene":"SPARCL1","sample":"Te.CS18.3","z":-0.82},{"gene":"SPARCL1","sample":"Te.CS19","z":-1.12},{"gene":"SPARCL1","sample":"Te.CS21.1","z":-0.8},{"gene":"SPARCL1","sample":"Te.CS21.2","z":-1.0},{"gene":"SPARCL1","sample":"Te.CS21.3","z":0.35},{"gene":"SPARCL1","sample":"Te.CS21.4","z":-0.6},{"gene":"SPARCL1","sample":"Te.CS22","z":-0.6},{"gene":"SPARCL1","sample":"Te.8.5w.1","z":1.5},{"gene":"SPARCL1","sample":"Te.8.5w.2","z":1.2},{"gene":"SPARCL1","sample":"Te.8.5w.3","z":0.02},{"gene":"SPARCL1","sample":"Te.8.5w.4","z":0.48},{"gene":"SPARCL1","sample":"Te.9w.1","z":0.8},{"gene":"SPARCL1","sample":"Te.9w.2","z":1.8},{"gene":"SPARCL1","sample":"Te.10w.1","z":1.55},{"gene":"SPARCL1","sample":"Te.10w.2","z":1.65},
      {"gene":"ABCA9","sample":"Te.CS18.1","z":-0.6},{"gene":"ABCA9","sample":"Te.CS18.2","z":-0.92},{"gene":"ABCA9","sample":"Te.CS18.3","z":-1.02},{"gene":"ABCA9","sample":"Te.CS19","z":-0.45},{"gene":"ABCA9","sample":"Te.CS21.1","z":-1.25},{"gene":"ABCA9","sample":"Te.CS21.2","z":-0.95},{"gene":"ABCA9","sample":"Te.CS21.3","z":-0.4},{"gene":"ABCA9","sample":"Te.CS21.4","z":-0.58},{"gene":"ABCA9","sample":"Te.CS22","z":-0.68},{"gene":"ABCA9","sample":"Te.8.5w.1","z":1.55},{"gene":"ABCA9","sample":"Te.8.5w.2","z":0.55},{"gene":"ABCA9","sample":"Te.8.5w.3","z":0.78},{"gene":"ABCA9","sample":"Te.8.5w.4","z":1.0},{"gene":"ABCA9","sample":"Te.9w.1","z":0.95},{"gene":"ABCA9","sample":"Te.9w.2","z":1.2},{"gene":"ABCA9","sample":"Te.10w.1","z":1.9},{"gene":"ABCA9","sample":"Te.10w.2","z":1.55},
      {"gene":"HSD3B2","sample":"Te.CS18.1","z":-0.92},{"gene":"HSD3B2","sample":"Te.CS18.2","z":-0.75},{"gene":"HSD3B2","sample":"Te.CS18.3","z":-0.42},{"gene":"HSD3B2","sample":"Te.CS19","z":-0.55},{"gene":"HSD3B2","sample":"Te.CS21.1","z":-1.15},{"gene":"HSD3B2","sample":"Te.CS21.2","z":-0.48},{"gene":"HSD3B2","sample":"Te.CS21.3","z":-0.65},{"gene":"HSD3B2","sample":"Te.CS21.4","z":-1.05},{"gene":"HSD3B2","sample":"Te.CS22","z":-0.85},{"gene":"HSD3B2","sample":"Te.8.5w.1","z":1.15},{"gene":"HSD3B2","sample":"Te.8.5w.2","z":0.33},{"gene":"HSD3B2","sample":"Te.8.5w.3","z":1.85},{"gene":"HSD3B2","sample":"Te.8.5w.4","z":1.75},{"gene":"HSD3B2","sample":"Te.9w.1","z":0.98},{"gene":"HSD3B2","sample":"Te.9w.2","z":0.55},{"gene":"HSD3B2","sample":"Te.10w.1","z":1.5},{"gene":"HSD3B2","sample":"Te.10w.2","z":1.25},
      {"gene":"DHCR7","sample":"Te.CS18.1","z":-1.0},{"gene":"DHCR7","sample":"Te.CS18.2","z":-0.82},{"gene":"DHCR7","sample":"Te.CS18.3","z":-0.8},{"gene":"DHCR7","sample":"Te.CS19","z":-0.8},{"gene":"DHCR7","sample":"Te.CS21.1","z":-0.68},{"gene":"DHCR7","sample":"Te.CS21.2","z":-0.62},{"gene":"DHCR7","sample":"Te.CS21.3","z":-0.78},{"gene":"DHCR7","sample":"Te.CS21.4","z":-0.78},{"gene":"DHCR7","sample":"Te.CS22","z":-0.75},{"gene":"DHCR7","sample":"Te.8.5w.1","z":0.6},{"gene":"DHCR7","sample":"Te.8.5w.2","z":0.75},{"gene":"DHCR7","sample":"Te.8.5w.3","z":0.65},{"gene":"DHCR7","sample":"Te.8.5w.4","z":1.12},{"gene":"DHCR7","sample":"Te.9w.1","z":1.45},{"gene":"DHCR7","sample":"Te.9w.2","z":1.28},{"gene":"DHCR7","sample":"Te.10w.1","z":1.75},{"gene":"DHCR7","sample":"Te.10w.2","z":1.8},
      {"gene":"C7","sample":"Te.CS18.1","z":-1.15},{"gene":"C7","sample":"Te.CS18.2","z":-0.78},{"gene":"C7","sample":"Te.CS18.3","z":-0.88},{"gene":"C7","sample":"Te.CS19","z":-0.8},{"gene":"C7","sample":"Te.CS21.1","z":-1.15},{"gene":"C7","sample":"Te.CS21.2","z":-1.12},{"gene":"C7","sample":"Te.CS21.3","z":0.22},{"gene":"C7","sample":"Te.CS21.4","z":-0.35},{"gene":"C7","sample":"Te.CS22","z":-0.58},{"gene":"C7","sample":"Te.8.5w.1","z":1.62},{"gene":"C7","sample":"Te.8.5w.2","z":0.5},{"gene":"C7","sample":"Te.8.5w.3","z":0.82},{"gene":"C7","sample":"Te.8.5w.4","z":0.88},{"gene":"C7","sample":"Te.9w.1","z":1.15},{"gene":"C7","sample":"Te.9w.2","z":1.55},{"gene":"C7","sample":"Te.10w.1","z":1.3},{"gene":"C7","sample":"Te.10w.2","z":1.38},
      {"gene":"HSD17B3","sample":"Te.CS18.1","z":-1.2},{"gene":"HSD17B3","sample":"Te.CS18.2","z":-0.65},{"gene":"HSD17B3","sample":"Te.CS18.3","z":-0.85},{"gene":"HSD17B3","sample":"Te.CS19","z":-1.2},{"gene":"HSD17B3","sample":"Te.CS21.1","z":-1.25},{"gene":"HSD17B3","sample":"Te.CS21.2","z":-0.42},{"gene":"HSD17B3","sample":"Te.CS21.3","z":0.0},{"gene":"HSD17B3","sample":"Te.CS21.4","z":-0.05},{"gene":"HSD17B3","sample":"Te.CS22","z":-0.62},{"gene":"HSD17B3","sample":"Te.8.5w.1","z":1.25},{"gene":"HSD17B3","sample":"Te.8.5w.2","z":0.7},{"gene":"HSD17B3","sample":"Te.8.5w.3","z":1.2},{"gene":"HSD17B3","sample":"Te.8.5w.4","z":1.05},{"gene":"HSD17B3","sample":"Te.9w.1","z":1.08},{"gene":"HSD17B3","sample":"Te.9w.2","z":1.3},{"gene":"HSD17B3","sample":"Te.10w.1","z":0.95},{"gene":"HSD17B3","sample":"Te.10w.2","z":1.5},
      {"gene":"FDX1","sample":"Te.CS18.1","z":-0.45},{"gene":"FDX1","sample":"Te.CS18.2","z":-0.9},{"gene":"FDX1","sample":"Te.CS18.3","z":-0.65},{"gene":"FDX1","sample":"Te.CS19","z":-0.72},{"gene":"FDX1","sample":"Te.CS21.1","z":-0.75},{"gene":"FDX1","sample":"Te.CS21.2","z":-1.0},{"gene":"FDX1","sample":"Te.CS21.3","z":-0.75},{"gene":"FDX1","sample":"Te.CS21.4","z":-0.88},{"gene":"FDX1","sample":"Te.CS22","z":-0.72},{"gene":"FDX1","sample":"Te.8.5w.1","z":0.85},{"gene":"FDX1","sample":"Te.8.5w.2","z":0.25},{"gene":"FDX1","sample":"Te.8.5w.3","z":0.82},{"gene":"FDX1","sample":"Te.8.5w.4","z":1.8},{"gene":"FDX1","sample":"Te.9w.1","z":1.7},{"gene":"FDX1","sample":"Te.9w.2","z":1.0},{"gene":"FDX1","sample":"Te.10w.1","z":1.75},{"gene":"FDX1","sample":"Te.10w.2","z":1.35},
      {"gene":"CARTPT","sample":"Te.CS18.1","z":-0.3},{"gene":"CARTPT","sample":"Te.CS18.2","z":-1.05},{"gene":"CARTPT","sample":"Te.CS18.3","z":-0.75},{"gene":"CARTPT","sample":"Te.CS19","z":-0.45},{"gene":"CARTPT","sample":"Te.CS21.1","z":-1.0},{"gene":"CARTPT","sample":"Te.CS21.2","z":-0.62},{"gene":"CARTPT","sample":"Te.CS21.3","z":-0.55},{"gene":"CARTPT","sample":"Te.CS21.4","z":-1.1},{"gene":"CARTPT","sample":"Te.CS22","z":-0.92},{"gene":"CARTPT","sample":"Te.8.5w.1","z":0.85},{"gene":"CARTPT","sample":"Te.8.5w.2","z":1.2},{"gene":"CARTPT","sample":"Te.8.5w.3","z":1.0},{"gene":"CARTPT","sample":"Te.8.5w.4","z":1.05},{"gene":"CARTPT","sample":"Te.9w.1","z":2.0},{"gene":"CARTPT","sample":"Te.9w.2","z":1.3},{"gene":"CARTPT","sample":"Te.10w.1","z":0.5},{"gene":"CARTPT","sample":"Te.10w.2","z":1.35},
      {"gene":"HPGD","sample":"Te.CS18.1","z":-0.15},{"gene":"HPGD","sample":"Te.CS18.2","z":-0.45},{"gene":"HPGD","sample":"Te.CS18.3","z":-1.12},{"gene":"HPGD","sample":"Te.CS19","z":-0.9},{"gene":"HPGD","sample":"Te.CS21.1","z":-0.48},{"gene":"HPGD","sample":"Te.CS21.2","z":-0.88},{"gene":"HPGD","sample":"Te.CS21.3","z":-0.85},{"gene":"HPGD","sample":"Te.CS21.4","z":-0.78},{"gene":"HPGD","sample":"Te.CS22","z":-0.72},{"gene":"HPGD","sample":"Te.8.5w.1","z":0.03},{"gene":"HPGD","sample":"Te.8.5w.2","z":0.82},{"gene":"HPGD","sample":"Te.8.5w.3","z":0.08},{"gene":"HPGD","sample":"Te.8.5w.4","z":1.25},{"gene":"HPGD","sample":"Te.9w.1","z":1.45},{"gene":"HPGD","sample":"Te.9w.2","z":1.75},{"gene":"HPGD","sample":"Te.10w.1","z":2.0},{"gene":"HPGD","sample":"Te.10w.2","z":1.4},
      {"gene":"PAPSS2","sample":"Te.CS18.1","z":-0.6},{"gene":"PAPSS2","sample":"Te.CS18.2","z":-0.75},{"gene":"PAPSS2","sample":"Te.CS18.3","z":-1.05},{"gene":"PAPSS2","sample":"Te.CS19","z":-1.0},{"gene":"PAPSS2","sample":"Te.CS21.1","z":-0.88},{"gene":"PAPSS2","sample":"Te.CS21.2","z":-0.6},{"gene":"PAPSS2","sample":"Te.CS21.3","z":-0.42},{"gene":"PAPSS2","sample":"Te.CS21.4","z":-0.72},{"gene":"PAPSS2","sample":"Te.CS22","z":-1.0},{"gene":"PAPSS2","sample":"Te.8.5w.1","z":1.05},{"gene":"PAPSS2","sample":"Te.8.5w.2","z":0.78},{"gene":"PAPSS2","sample":"Te.8.5w.3","z":0.8},{"gene":"PAPSS2","sample":"Te.8.5w.4","z":1.0},{"gene":"PAPSS2","sample":"Te.9w.1","z":1.45},{"gene":"PAPSS2","sample":"Te.9w.2","z":1.05},{"gene":"PAPSS2","sample":"Te.10w.1","z":1.7},{"gene":"PAPSS2","sample":"Te.10w.2","z":1.75},
      {"gene":"ACSS2","sample":"Te.CS18.1","z":-0.85},{"gene":"ACSS2","sample":"Te.CS18.2","z":-0.95},{"gene":"ACSS2","sample":"Te.CS18.3","z":-0.6},{"gene":"ACSS2","sample":"Te.CS19","z":-0.7},{"gene":"ACSS2","sample":"Te.CS21.1","z":-0.75},{"gene":"ACSS2","sample":"Te.CS21.2","z":-0.85},{"gene":"ACSS2","sample":"Te.CS21.3","z":-0.8},{"gene":"ACSS2","sample":"Te.CS21.4","z":-0.72},{"gene":"ACSS2","sample":"Te.CS22","z":-0.95},{"gene":"ACSS2","sample":"Te.8.5w.1","z":0.6},{"gene":"ACSS2","sample":"Te.8.5w.2","z":0.65},{"gene":"ACSS2","sample":"Te.8.5w.3","z":0.55},{"gene":"ACSS2","sample":"Te.8.5w.4","z":0.62},{"gene":"ACSS2","sample":"Te.9w.1","z":0.75},{"gene":"ACSS2","sample":"Te.9w.2","z":1.8},{"gene":"ACSS2","sample":"Te.10w.1","z":1.5},{"gene":"ACSS2","sample":"Te.10w.2","z":2.05}
    ]
  },
  "resolve": {"scale": {"color": "independent"}, "legend": {"color": "independent"}},
  "spacing": 14,
  "columns": 1,
  "align": "none",
  "concat": [
    {
      "title": {"text": "a", "anchor": "start", "frame": "group", "fontSize": 28, "dx": -47, "dy": 11, "offset": 0},
      "spacing": 19,
      "bounds": "flush",
      "hconcat": [
        {"width": 1, "height": 1, "view": {"stroke": null}, "data": {"values": []}, "mark": {"type": "point"}},
        {
          "spacing": 39,
          "bounds": "flush",
          "hconcat": [
            {
              "width": 186, "height": 160,
              "title": {"text": "LHCGR"},
              "resolve": {"axis": {"x": "independent", "y": "independent"}},
              "layer": [
                {"data": {"name": "curves"}, "transform": [{"filter": "datum.gene === 'LHCGR'"}],
                 "mark": {"type": "area", "color": "#a3a3a3", "interpolate": "monotone"},
                 "encoding": {
                   "x": {"field": "dpc", "type": "quantitative", "scale": {"domain": [44.6, 75.4], "nice": false, "zero": false},
                         "axis": {"values": [45,50,55,60,65,70,75], "labelExpr": "'' + datum.value", "gridColor": "#dcdcdc", "title": null}},
                   "y": {"field": "lo", "type": "quantitative", "scale": {"domain": [-0.45, 9.35], "nice": false, "zero": false},
                         "axis": {"values": [0,2.5,5,7.5], "labelExpr": "'' + datum.value", "gridColor": "#dcdcdc", "labelPadding": 5, "title": "Log₂ normalised values", "titlePadding": 5.5, "minExtent": 30, "maxExtent": 30}},
                   "y2": {"field": "hi"}}},
                {"data": {"name": "curves"}, "transform": [{"filter": "datum.gene === 'LHCGR'"}],
                 "mark": {"type": "line", "color": "#e8251a", "strokeWidth": 1.2, "interpolate": "monotone"},
                 "encoding": {
                   "x": {"field": "dpc", "type": "quantitative", "axis": {"values": [47.5,52.5,57.5,62.5,67.5,72.5], "labels": false, "ticks": false, "domain": false, "gridColor": "#eeeeee", "title": null, "minExtent": 0, "maxExtent": 0}},
                   "y": {"field": "fit", "type": "quantitative", "axis": {"values": [1.25,3.75,6.25,8.75], "labels": false, "ticks": false, "domain": false, "gridColor": "#eeeeee", "title": null, "minExtent": 0, "maxExtent": 0}}}},
                {"data": {"name": "points"}, "transform": [{"filter": "datum.gene === 'LHCGR'"}],
                 "mark": {"type": "circle", "color": "black", "size": 7, "opacity": 1},
                 "encoding": {"x": {"field": "dpc", "type": "quantitative", "axis": null}, "y": {"field": "value", "type": "quantitative", "axis": null}}}
              ]
            },
            {
              "width": 186, "height": 160,
              "title": {"text": "STAR"},
              "resolve": {"axis": {"x": "independent", "y": "independent"}},
              "layer": [
                {"data": {"name": "curves"}, "transform": [{"filter": "datum.gene === 'STAR'"}],
                 "mark": {"type": "area", "color": "#a3a3a3", "interpolate": "monotone"},
                 "encoding": {
                   "x": {"field": "dpc", "type": "quantitative", "scale": {"domain": [44.6, 75.4], "nice": false, "zero": false},
                         "axis": {"values": [45,50,55,60,65,70,75], "labelExpr": "'' + datum.value", "gridColor": "#dcdcdc", "title": null}},
                   "y": {"field": "lo", "type": "quantitative", "scale": {"domain": [-0.7, 14.7], "nice": false, "zero": false},
                         "axis": {"values": [0,5,10], "labelExpr": "'' + datum.value", "gridColor": "#dcdcdc", "labelPadding": 5, "title": null}},
                   "y2": {"field": "hi"}}},
                {"data": {"name": "curves"}, "transform": [{"filter": "datum.gene === 'STAR'"}],
                 "mark": {"type": "line", "color": "#e8251a", "strokeWidth": 1.2, "interpolate": "monotone"},
                 "encoding": {
                   "x": {"field": "dpc", "type": "quantitative", "axis": {"values": [47.5,52.5,57.5,62.5,67.5,72.5], "labels": false, "ticks": false, "domain": false, "gridColor": "#eeeeee", "title": null, "minExtent": 0, "maxExtent": 0}},
                   "y": {"field": "fit", "type": "quantitative", "axis": {"values": [2.5,7.5,12.5], "labels": false, "ticks": false, "domain": false, "gridColor": "#eeeeee", "title": null, "minExtent": 0, "maxExtent": 0}}}},
                {"data": {"name": "points"}, "transform": [{"filter": "datum.gene === 'STAR'"}],
                 "mark": {"type": "circle", "color": "black", "size": 7, "opacity": 1},
                 "encoding": {"x": {"field": "dpc", "type": "quantitative", "axis": null}, "y": {"field": "value", "type": "quantitative", "axis": null}}}
              ]
            },
            {
              "width": 186, "height": 160,
              "title": {"text": "CYP11A1"},
              "resolve": {"axis": {"x": "independent", "y": "independent"}},
              "layer": [
                {"data": {"name": "curves"}, "transform": [{"filter": "datum.gene === 'CYP11A1'"}],
                 "mark": {"type": "area", "color": "#a3a3a3", "interpolate": "monotone"},
                 "encoding": {
                   "x": {"field": "dpc", "type": "quantitative", "scale": {"domain": [44.6, 75.4], "nice": false, "zero": false},
                         "axis": {"values": [45,50,55,60,65,70,75], "labelExpr": "'' + datum.value", "gridColor": "#dcdcdc", "title": null}},
                   "y": {"field": "lo", "type": "quantitative", "scale": {"domain": [-0.7, 14.7], "nice": false, "zero": false},
                         "axis": {"values": [0,5,10], "labelExpr": "'' + datum.value", "gridColor": "#dcdcdc", "labelPadding": 5, "title": null}},
                   "y2": {"field": "hi"}}},
                {"data": {"name": "curves"}, "transform": [{"filter": "datum.gene === 'CYP11A1'"}],
                 "mark": {"type": "line", "color": "#e8251a", "strokeWidth": 1.2, "interpolate": "monotone"},
                 "encoding": {
                   "x": {"field": "dpc", "type": "quantitative", "axis": {"values": [47.5,52.5,57.5,62.5,67.5,72.5], "labels": false, "ticks": false, "domain": false, "gridColor": "#eeeeee", "title": null, "minExtent": 0, "maxExtent": 0}},
                   "y": {"field": "fit", "type": "quantitative", "axis": {"values": [2.5,7.5,12.5], "labels": false, "ticks": false, "domain": false, "gridColor": "#eeeeee", "title": null, "minExtent": 0, "maxExtent": 0}}}},
                {"data": {"name": "points"}, "transform": [{"filter": "datum.gene === 'CYP11A1'"}],
                 "mark": {"type": "circle", "color": "black", "size": 7, "opacity": 1},
                 "encoding": {"x": {"field": "dpc", "type": "quantitative", "axis": null}, "y": {"field": "value", "type": "quantitative", "axis": null}}}
              ]
            }
          ]
        }
      ]
    },
    {
      "title": {"text": "a", "orient": "bottom", "anchor": "start", "frame": "group", "fontSize": 28, "dx": -47, "offset": 3, "color": "transparent"},
      "spacing": 19,
      "bounds": "flush",
      "hconcat": [
        {"width": 1, "height": 1, "view": {"stroke": null}, "data": {"values": []}, "mark": {"type": "point"}},
        {
          "spacing": 39,
          "bounds": "flush",
          "hconcat": [
            {
              "width": 186, "height": 160,
              "title": {"text": "HSD3B2"},
              "resolve": {"axis": {"x": "independent", "y": "independent"}},
              "layer": [
                {"data": {"name": "curves"}, "transform": [{"filter": "datum.gene === 'HSD3B2'"}],
                 "mark": {"type": "area", "color": "#a3a3a3", "interpolate": "monotone"},
                 "encoding": {
                   "x": {"field": "dpc", "type": "quantitative", "scale": {"domain": [44.6, 75.4], "nice": false, "zero": false},
                         "axis": {"values": [45,50,55,60,65,70,75], "labelExpr": "'' + datum.value", "gridColor": "#dcdcdc", "title": "dpc", "titlePadding": 16}},
                   "y": {"field": "lo", "type": "quantitative", "scale": {"domain": [-0.5, 10.7], "nice": false, "zero": false},
                         "axis": {"values": [0,2.5,5,7.5,10], "labelExpr": "'' + datum.value", "gridColor": "#dcdcdc", "labelPadding": 5, "title": "Log₂ normalised values", "titlePadding": 5.5, "minExtent": 30, "maxExtent": 30}},
                   "y2": {"field": "hi"}}},
                {"data": {"name": "curves"}, "transform": [{"filter": "datum.gene === 'HSD3B2'"}],
                 "mark": {"type": "line", "color": "#e8251a", "strokeWidth": 1.2, "interpolate": "monotone"},
                 "encoding": {
                   "x": {"field": "dpc", "type": "quantitative", "axis": {"values": [47.5,52.5,57.5,62.5,67.5,72.5], "labels": false, "ticks": false, "domain": false, "gridColor": "#eeeeee", "title": null, "minExtent": 0, "maxExtent": 0}},
                   "y": {"field": "fit", "type": "quantitative", "axis": {"values": [1.25,3.75,6.25,8.75], "labels": false, "ticks": false, "domain": false, "gridColor": "#eeeeee", "title": null, "minExtent": 0, "maxExtent": 0}}}},
                {"data": {"name": "points"}, "transform": [{"filter": "datum.gene === 'HSD3B2'"}],
                 "mark": {"type": "circle", "color": "black", "size": 7, "opacity": 1},
                 "encoding": {"x": {"field": "dpc", "type": "quantitative", "axis": null}, "y": {"field": "value", "type": "quantitative", "axis": null}}}
              ]
            },
            {
              "width": 186, "height": 160,
              "title": {"text": "CYP17A1"},
              "resolve": {"axis": {"x": "independent", "y": "independent"}},
              "layer": [
                {"data": {"name": "curves"}, "transform": [{"filter": "datum.gene === 'CYP17A1'"}],
                 "mark": {"type": "area", "color": "#a3a3a3", "interpolate": "monotone"},
                 "encoding": {
                   "x": {"field": "dpc", "type": "quantitative", "scale": {"domain": [44.6, 75.4], "nice": false, "zero": false},
                         "axis": {"values": [45,50,55,60,65,70,75], "labelExpr": "'' + datum.value", "gridColor": "#dcdcdc", "title": "dpc", "titlePadding": 16}},
                   "y": {"field": "lo", "type": "quantitative", "scale": {"domain": [-0.7, 14.7], "nice": false, "zero": false},
                         "axis": {"values": [0,5,10], "labelExpr": "'' + datum.value", "gridColor": "#dcdcdc", "labelPadding": 5, "title": null}},
                   "y2": {"field": "hi"}}},
                {"data": {"name": "curves"}, "transform": [{"filter": "datum.gene === 'CYP17A1'"}],
                 "mark": {"type": "line", "color": "#e8251a", "strokeWidth": 1.2, "interpolate": "monotone"},
                 "encoding": {
                   "x": {"field": "dpc", "type": "quantitative", "axis": {"values": [47.5,52.5,57.5,62.5,67.5,72.5], "labels": false, "ticks": false, "domain": false, "gridColor": "#eeeeee", "title": null, "minExtent": 0, "maxExtent": 0}},
                   "y": {"field": "fit", "type": "quantitative", "axis": {"values": [2.5,7.5,12.5], "labels": false, "ticks": false, "domain": false, "gridColor": "#eeeeee", "title": null, "minExtent": 0, "maxExtent": 0}}}},
                {"data": {"name": "points"}, "transform": [{"filter": "datum.gene === 'CYP17A1'"}],
                 "mark": {"type": "circle", "color": "black", "size": 7, "opacity": 1},
                 "encoding": {"x": {"field": "dpc", "type": "quantitative", "axis": null}, "y": {"field": "value", "type": "quantitative", "axis": null}}}
              ]
            },
            {
              "width": 186, "height": 160,
              "title": {"text": "HSD17B3"},
              "resolve": {"axis": {"x": "independent", "y": "independent"}},
              "layer": [
                {"data": {"name": "curves"}, "transform": [{"filter": "datum.gene === 'HSD17B3'"}],
                 "mark": {"type": "area", "color": "#a3a3a3", "interpolate": "monotone"},
                 "encoding": {
                   "x": {"field": "dpc", "type": "quantitative", "scale": {"domain": [44.6, 75.4], "nice": false, "zero": false},
                         "axis": {"values": [45,50,55,60,65,70,75], "labelExpr": "'' + datum.value", "gridColor": "#dcdcdc", "title": "dpc", "titlePadding": 16}},
                   "y": {"field": "lo", "type": "quantitative", "scale": {"domain": [-0.45, 9.4], "nice": false, "zero": false},
                         "axis": {"values": [0,2.5,5,7.5], "labelExpr": "'' + datum.value", "gridColor": "#dcdcdc", "labelPadding": 5, "title": null}},
                   "y2": {"field": "hi"}}},
                {"data": {"name": "curves"}, "transform": [{"filter": "datum.gene === 'HSD17B3'"}],
                 "mark": {"type": "line", "color": "#e8251a", "strokeWidth": 1.2, "interpolate": "monotone"},
                 "encoding": {
                   "x": {"field": "dpc", "type": "quantitative", "axis": {"values": [47.5,52.5,57.5,62.5,67.5,72.5], "labels": false, "ticks": false, "domain": false, "gridColor": "#eeeeee", "title": null, "minExtent": 0, "maxExtent": 0}},
                   "y": {"field": "fit", "type": "quantitative", "axis": {"values": [1.25,3.75,6.25,8.75], "labels": false, "ticks": false, "domain": false, "gridColor": "#eeeeee", "title": null, "minExtent": 0, "maxExtent": 0}}}},
                {"data": {"name": "points"}, "transform": [{"filter": "datum.gene === 'HSD17B3'"}],
                 "mark": {"type": "circle", "color": "black", "size": 7, "opacity": 1},
                 "encoding": {"x": {"field": "dpc", "type": "quantitative", "axis": null}, "y": {"field": "value", "type": "quantitative", "axis": null}}}
              ]
            }
          ]
        }
      ]
    },
    {
      "title": {"text": "b", "anchor": "start", "frame": "group", "fontSize": 24, "dx": -47, "dy": 11, "offset": 0},
      "spacing": 2,
      "bounds": "flush",
      "resolve": {"scale": {"color": "independent"}, "legend": {"color": "independent"}},
      "vconcat": [
        {
          "width": 529, "height": 12,
          "view": {"stroke": null},
          "data": {"name": "annot"},
          "mark": {"type": "rect", "stroke": "white", "strokeWidth": 1},
          "encoding": {
            "x": {"field": "start", "type": "quantitative", "scale": {"domain": [0, 17], "nice": false, "zero": false},
                  "axis": {"orient": "top", "values": [4.5, 13], "labelExpr": "datum.value < 9 ? 'Early testis' : 'Late testis'", "labelFontSize": 18, "labelFontWeight": "bold", "labelColor": "black", "ticks": false, "tickSize": 0, "labelPadding": 3, "grid": false, "title": null}},
            "x2": {"field": "end"},
            "color": {"field": "group", "type": "nominal", "scale": {"domain": ["Early testis", "Late testis"], "range": ["#1c1a5a", "#6a62a9"]}, "legend": null}
          }
        },
        {
          "width": 529, "height": 627,
          "view": {"stroke": null},
          "data": {"name": "heat"},
          "mark": {"type": "rect"},
          "encoding": {
            "x": {"field": "sample", "type": "nominal",
                  "sort": ["Te.CS18.1","Te.CS18.2","Te.CS18.3","Te.CS19","Te.CS21.1","Te.CS21.2","Te.CS21.3","Te.CS21.4","Te.CS22","Te.8.5w.1","Te.8.5w.2","Te.8.5w.3","Te.8.5w.4","Te.9w.1","Te.9w.2","Te.10w.1","Te.10w.2"],
                  "scale": {"paddingInner": 0, "paddingOuter": 0},
                  "axis": {"orient": "bottom", "labelAngle": 90, "labelFontSize": 13.5, "labelColor": "black", "ticks": false, "tickSize": 0, "labelPadding": 4, "grid": false, "title": null}},
            "y": {"field": "gene", "type": "nominal",
                  "sort": ["CYP17A1","LHCGR","INSL3","CYP11A1","CALB2","SCARB1","STAR","DHCR24","ABCA10","MGARP","MSMO1","RNU6-1160P","GRAMD1B","HSD17B6","EGFLAM","ABCA8","IDI1","LDLR","LUM","SPARCL1","ABCA9","HSD3B2","DHCR7","C7","HSD17B3","FDX1","CARTPT","HPGD","PAPSS2","ACSS2"],
                  "scale": {"paddingInner": 0, "paddingOuter": 0},
                  "axis": {"orient": "right", "labelFontSize": 13.5, "labelColor": "black", "ticks": false, "tickSize": 0, "labelPadding": 5, "grid": false, "title": null}},
            "color": {"field": "z", "type": "quantitative",
                      "scale": {"type": "linear", "domain": [-1.25, -1.0, -0.75, -0.5, -0.25, 0, 0.3, 0.6, 0.9, 1.2, 1.5, 1.8, 2.1], "range": ["#0b2c63", "#1f5797", "#3578b4", "#6aa2cc", "#a7c8df", "#ececec", "#f5cfbb", "#f4a07e", "#e8653f", "#c93522", "#a8170f", "#7c0505", "#1e0000"], "interpolate": "rgb", "clamp": true},
                      "legend": {"orient": "none", "legendX": 630, "legendY": 5, "direction": "vertical", "gradientLength": 193, "gradientThickness": 17, "values": [-1, 0, 1], "title": null, "labelFontSize": 13.5, "labelColor": "black", "labelOffset": 7, "gradientStrokeWidth": 0}}
          }
        }
      ]
    }
  ]
}
